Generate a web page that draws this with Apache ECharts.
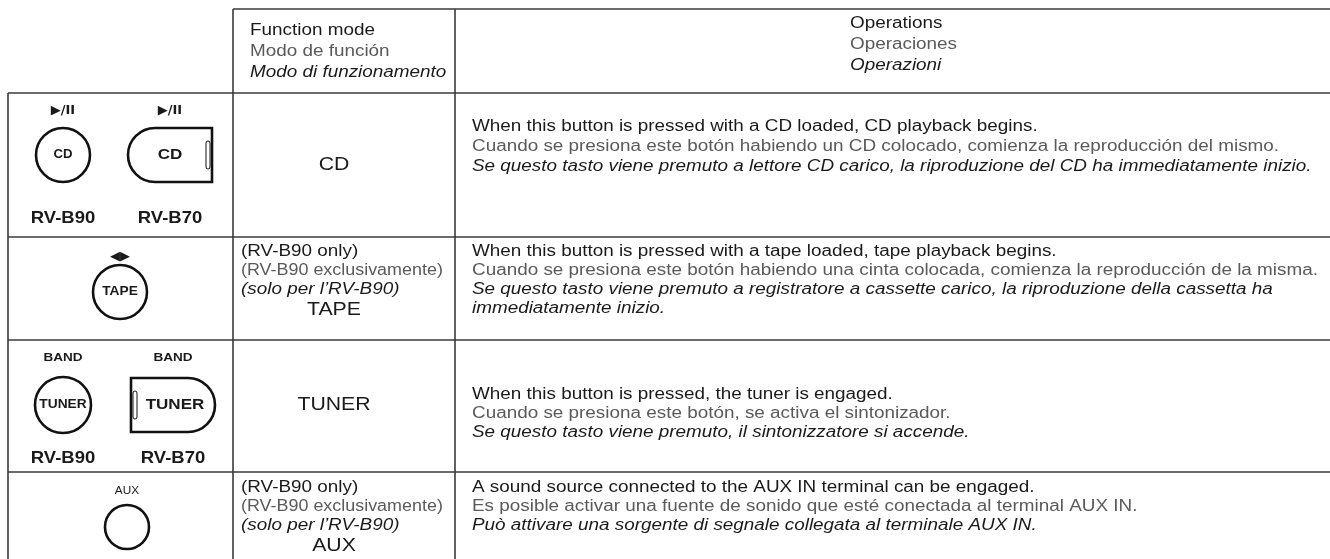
<!DOCTYPE html>
<html><head><meta charset="utf-8">
<script src="https://cdn.jsdelivr.net/npm/echarts@6.0.0/dist/echarts.min.js"></script>
<style>html,body{margin:0;padding:0;background:#fff}#c{width:1330px;height:559px}</style>
</head><body><div id="c"></div>
<script>
// ---------------- DATA ----------------
const headerMode = ['Function mode', 'Modo de función', 'Modo di funzionamento'];
const headerOps = ['Operations', 'Operaciones', 'Operazioni'];
const rowKeys = ['CD', 'TAPE', 'TUNER', 'AUX'];
const modeLabels = ['CD', 'TAPE', 'TUNER', 'AUX'];
const modeNotes = [
  [],
  ['(RV-B90 only)', '(RV-B90 exclusivamente)', '(solo per l’RV-B90)'],
  [],
  ['(RV-B90 only)', '(RV-B90 exclusivamente)', '(solo per l’RV-B90)']
];
const opsEN = [
  'When this button is pressed with a CD loaded, CD playback begins.',
  'When this button is pressed with a tape loaded, tape playback begins.',
  'When this button is pressed, the tuner is engaged.',
  'A sound source connected to the AUX IN terminal can be engaged.'
];
const opsES = [
  'Cuando se presiona este botón habiendo un CD colocado, comienza la reproducción del mismo.',
  'Cuando se presiona este botón habiendo una cinta colocada, comienza la reproducción de la misma.',
  'Cuando se presiona este botón, se activa el sintonizador.',
  'Es posible activar una fuente de sonido que esté conectada al terminal AUX IN.'
];
const opsIT = [
  ['Se questo tasto viene premuto a lettore CD carico, la riproduzione del CD ha immediatamente inizio.'],
  ['Se questo tasto viene premuto a registratore a cassette carico, la riproduzione della cassetta ha', 'immediatamente inizio.'],
  ['Se questo tasto viene premuto, il sintonizzatore si accende.'],
  ['Può attivare una sorgente di segnale collegata al terminale AUX IN.']
];
const buttonTopLabels = [['▶/II', '▶/II'], ['◀▶'], ['BAND', 'BAND'], ['AUX']];
const buttonFaces = [['CD', 'CD'], ['TAPE'], ['TUNER', 'TUNER'], ['']];
const modelNames = ['RV-B90', 'RV-B70'];

// ---------------- LAYOUT (positions / styles) ----------------
const W = 1330, H = 559;
const colX = [8, 233, 455, 1330];
const headTop = 9;
const rowY = [93, 237, 340, 472, 559];
const SX = 1.18;              // horizontal stretch of the printed type
const FONT = '"Liberation Sans", Arial, sans-serif';
const INK = '#1a1a1a', GREY = '#5a5a5a', LINE = '#3a3a3a';
const rowLayout = [
  { opsY: 127, step: 20, notesY: 0,   modeY: 165, topY: 111, btnY: 155, modelY: 218, xs: [63, 170], shapes: ['circle', 'stadL'], r: 27 },
  { opsY: 252, step: 19, notesY: 252, modeY: 310, topY: 257, btnY: 292, modelY: 0,   xs: [120],     shapes: ['circle'], r: 27 },
  { opsY: 395, step: 19, notesY: 0,   modeY: 405, topY: 358, btnY: 405, modelY: 458, xs: [63, 173], shapes: ['circle', 'stadR'], r: 28 },
  { opsY: 488, step: 19, notesY: 488, modeY: 546, topY: 491, btnY: 527, modelY: 0,   xs: [127],     shapes: ['circle'], r: 22 }
];

function makeText(p, text, o) {
  o = o || {};
  return {
    type: 'text', x: p[0], y: p[1], scaleX: o.sx || SX,
    style: {
      text: text, x: 0, y: 0,
      fill: o.fill || INK,
      fontSize: o.size || 16,
      fontFamily: o.family || FONT,
      fontWeight: o.weight || 'normal',
      fontStyle: o.style || 'normal',
      align: o.align || 'left',
      verticalAlign: 'middle'
    }
  };
}
function makeLine(a, b) {
  return { type: 'line', shape: { x1: a[0], y1: a[1], x2: b[0], y2: b[1] }, style: { stroke: LINE, lineWidth: 1.6 } };
}

function renderGrid(params, api) {
  const P = (x, y) => api.coord([x, y]);
  const ch = [];
  ch.push(makeLine(P(colX[1], headTop), P(colX[3], headTop)));
  rowY.slice(0, 4).forEach(y => ch.push(makeLine(P(colX[0], y), P(colX[3], y))));
  ch.push(makeLine(P(colX[0], rowY[0]), P(colX[0], H)));
  ch.push(makeLine(P(colX[1], headTop), P(colX[1], H)));
  ch.push(makeLine(P(colX[2], headTop), P(colX[2], H)));
  return { type: 'group', children: ch };
}

function renderHeader(params, api) {
  const P = (x, y) => api.coord([x, y]);
  const ch = [];
  const styles = [{ fill: INK }, { fill: GREY }, { fill: INK, style: 'italic' }];
  headerMode.forEach((t, i) => ch.push(makeText(P(250, 31 + i * 21), t, styles[i])));
  headerOps.forEach((t, i) => ch.push(makeText(P(850, 24 + i * 21), t, styles[i])));
  return { type: 'group', children: ch };
}

function renderRow(params, api) {
  const i = api.value(0);
  const L = rowLayout[i];
  const P = (x, y) => api.coord([x, y]);
  const ch = [];
  // operations column
  let y = L.opsY;
  ch.push(makeText(P(472, y), opsEN[i], { fill: INK })); y += L.step;
  ch.push(makeText(P(472, y), opsES[i], { fill: GREY })); y += L.step;
  opsIT[i].forEach(t => { ch.push(makeText(P(472, y), t, { fill: INK, style: 'italic' })); y += L.step; });
  // function mode column
  const notes = modeNotes[i];
  const ns = [{ fill: INK }, { fill: GREY, sx: 1.12 }, { fill: INK, style: 'italic' }];
  notes.forEach((t, k) => ch.push(makeText(P(241, L.notesY + k * 19), t, ns[k])));
  ch.push(makeText(P(334, L.modeY), modeLabels[i], { size: 18, align: 'center' }));
  // buttons
  L.xs.forEach((cx, k) => {
    const top = buttonTopLabels[i][k];
    if (top.indexOf('▶') >= 0 || top.indexOf('◀') >= 0) {
      ch.push(makeText(P(cx, L.topY), top, { size: 13, weight: 'bold', family: '"DejaVu Sans", sans-serif', align: 'center', sx: 1 }));
    } else {
      ch.push(makeText(P(cx, L.topY), top, { size: top === 'AUX' ? 10 : 11.5, weight: top === 'AUX' ? 'normal' : 'bold', align: 'center' }));
    }
    const shape = L.shapes[k];
    const c = P(cx, L.btnY);
    if (shape === 'circle') {
      ch.push({ type: 'circle', shape: { cx: c[0], cy: c[1], r: L.r }, style: { fill: null, stroke: '#111', lineWidth: 2.6 } });
      if (buttonFaces[i][k]) ch.push(makeText(c, buttonFaces[i][k], { size: buttonFaces[i][k].length > 3 ? 12.5 : 12, weight: 'bold', align: 'center', sx: 1.1 }));
    } else {
      const hw = 42, hh = 27, r = 27;
      const x0 = c[0] - hw, x1 = c[0] + hw, y0 = c[1] - hh, y1 = c[1] + hh;
      let d, notch;
      if (shape === 'stadL') {
        d = `M${x0 + r} ${y0} L${x1} ${y0} L${x1} ${y1} L${x0 + r} ${y1} A${r} ${r} 0 0 1 ${x0 + r} ${y0} Z`;
        notch = { x: x1 - 6, y: c[1] - 14, width: 4, height: 28 };
      } else {
        d = `M${x0} ${y0} L${x1 - r} ${y0} A${r} ${r} 0 0 1 ${x1 - r} ${y1} L${x0} ${y1} Z`;
        notch = { x: x0 + 2, y: c[1] - 14, width: 4, height: 28 };
      }
      ch.push({ type: 'path', shape: { pathData: d }, style: { fill: null, stroke: '#111', lineWidth: 2.6 } });
      ch.push({ type: 'rect', shape: Object.assign({ r: 2 }, notch), style: { fill: null, stroke: '#111', lineWidth: 1 } });
      ch.push(makeText([c[0] + (shape === 'stadR' ? 2 : 0), c[1]], buttonFaces[i][k], { size: 15.5, weight: 'bold', align: 'center', sx: 1.1 }));
    }
    if (L.modelY) ch.push(makeText(P(cx, L.modelY), modelNames[k], { size: 16.5, weight: 'bold', align: 'center', sx: 1.12 }));
  });
  return { type: 'group', children: ch };
}

const chart = echarts.init(document.getElementById('c'), null, { renderer: 'canvas' });
chart.setOption({
  animation: false,
  backgroundColor: '#ffffff',
  grid: { left: 0, right: 0, top: 0, bottom: 0 },
  xAxis: { type: 'value', min: 0, max: W, show: false },
  yAxis: { type: 'value', min: 0, max: H, inverse: true, show: false },
  series: [
    { type: 'custom', name: 'grid', data: [[0]], renderItem: renderGrid, clip: false, silent: true },
    { type: 'custom', name: 'header', data: [[0]], renderItem: renderHeader, clip: false, silent: true },
    { type: 'custom', name: 'rows', data: rowKeys.map((k, i) => [i]), renderItem: renderRow, clip: false, silent: true }
  ]
});
</script>
</body></html>
